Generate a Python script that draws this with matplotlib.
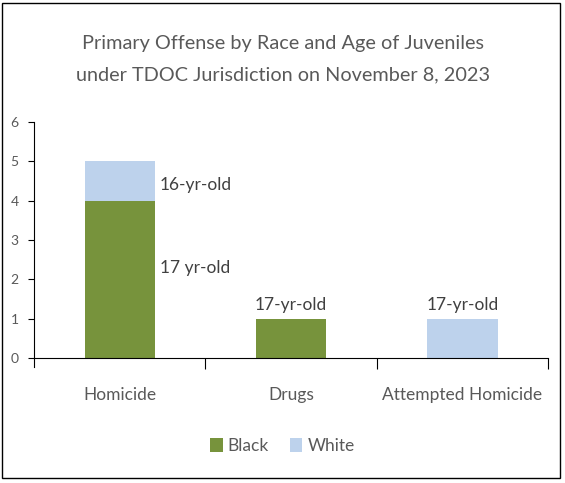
import matplotlib.pyplot as plt
from matplotlib.patches import Rectangle

plt.rcParams['font.family'] = ['Lato', 'DejaVu Sans']

# data
offenses = ['Homicide', 'Drugs', 'Attempted Homicide']
black = [4, 1, 0]
white = [1, 0, 1]
age_labels = ['16-yr-old', '17 yr-old', '17-yr-old', '17-yr-old']

green = '#77933C'
blue = '#BDD2EC'
grey = '#595959'

fig = plt.figure(figsize=(5.65, 4.83), dpi=100)
ax = fig.add_axes([0.0602, 0.2588, 0.9098, 0.4886])

x = list(range(len(offenses)))
ax.bar(x, black, width=0.41, color=green, label='Black')
ax.bar(x, white, width=0.41, bottom=black, color=blue, label='White')

ax.set_xlim(-0.5, 2.5)
ax.set_ylim(0, 6)
ax.set_yticks(range(7))
ax.tick_params(axis='y', labelsize=10, labelcolor=grey, length=4, direction='out', pad=7)
ax.set_xticks([0.5, 1.5, 2.5], minor=False)
ax.set_xticklabels([])
ax.set_xticks(x, minor=True)
ax.set_xticklabels(offenses, minor=True)
ax.tick_params(axis='x', which='major', length=8, direction='out')
ax.tick_params(axis='x', which='minor', length=0, labelsize=12.5, labelcolor=grey, pad=21)
for s in ['top', 'right']:
    ax.spines[s].set_visible(False)

# the left spine hangs a little below zero, like the reference
ax.spines['left'].set_bounds(-0.22, 6)

# age labels
ax.text(0.235, 4.4, age_labels[0], fontsize=12.5, color='#404040', ha='left', va='center')
ax.text(0.235, 2.3, age_labels[1], fontsize=12.5, color='#404040', ha='left', va='center')
ax.text(1, black[1] + 0.15, age_labels[2], fontsize=12.5, color='#404040',
        ha='center', va='bottom')
ax.text(2, white[2] + 0.15, age_labels[3], fontsize=12.5, color='#404040',
        ha='center', va='bottom')

fig.text(0.5, 0.877, 'Primary Offense by Race and Age of Juveniles\nunder TDOC Jurisdiction on November 8, 2023',
         ha='center', va='center', fontsize=14.3, color=grey, linespacing=2.0)

fig.legend(loc='center', bbox_to_anchor=(0.5, 0.077), ncol=2, frameon=False,
           fontsize=12.5, labelcolor=grey, handlelength=0.7, handleheight=0.9,
           handletextpad=0.3, columnspacing=1.2)

fig.patches.append(Rectangle((0.004, 0.01), 0.988, 0.984, transform=fig.transFigure,
                             fill=False, edgecolor='black', linewidth=1))

plt.savefig('out.png', dpi=100)
